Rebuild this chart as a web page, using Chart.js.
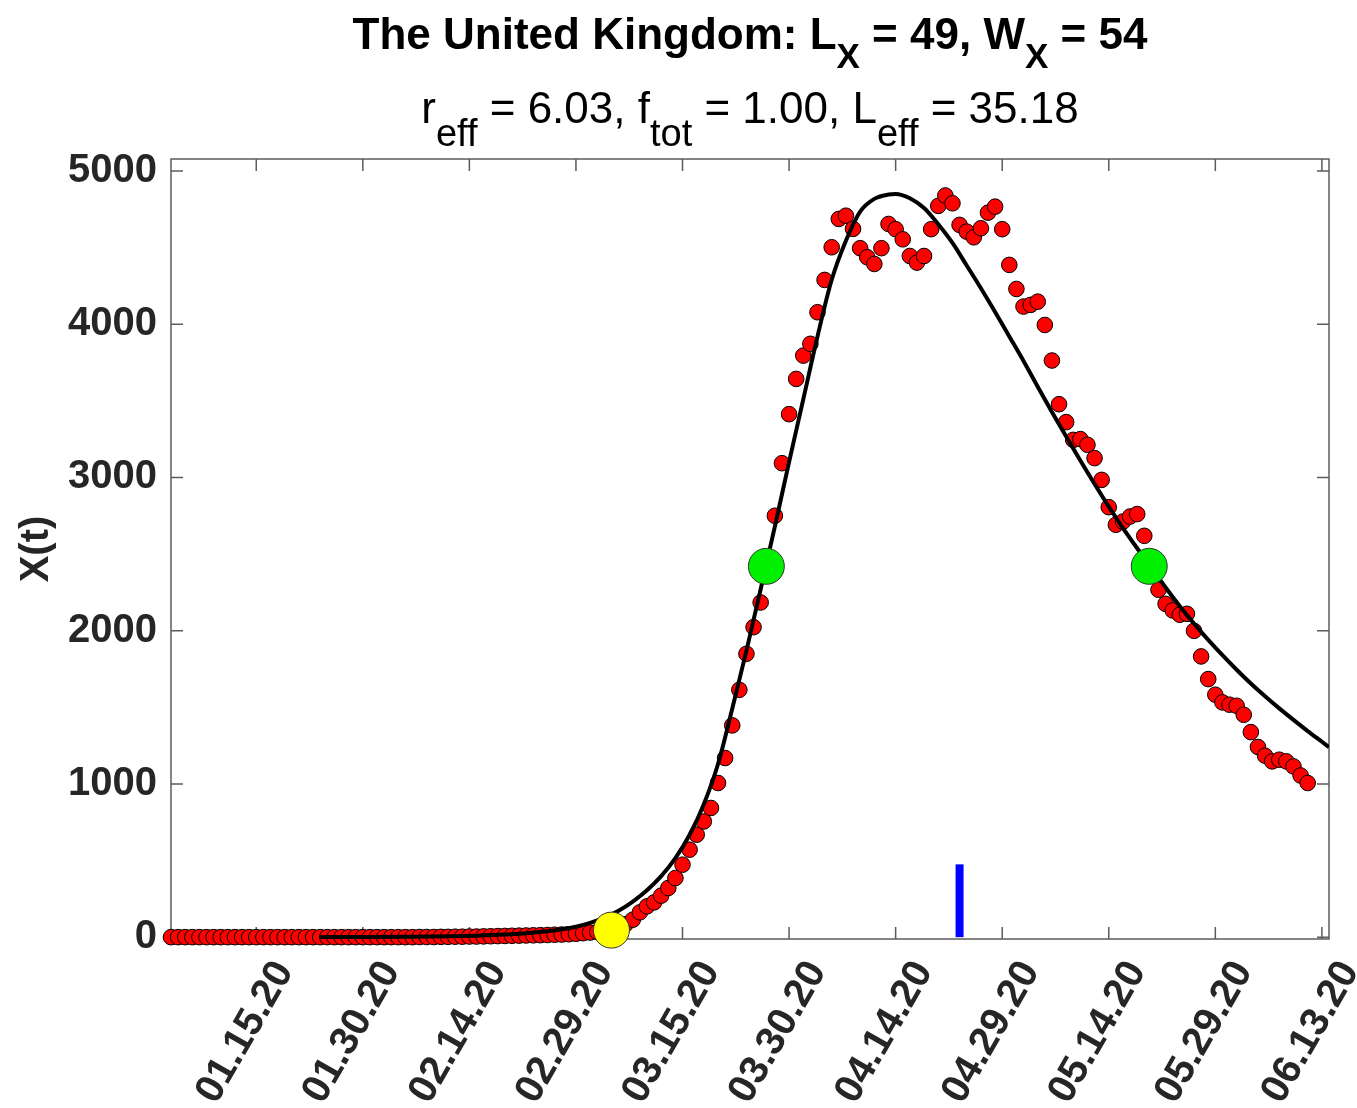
<!DOCTYPE html>
<html>
<head>
<meta charset="utf-8">
<script src="https://cdn.jsdelivr.net/npm/chart.js@4.4.0/dist/chart.umd.min.js"></script>
<style>
  body { margin: 0; background: #fff; }
  #wrap { position: relative; width: 1357px; height: 1108px; font-family: "Liberation Sans", Arial, Helvetica, sans-serif; color: #000; }
  #chart { position: absolute; left: 0; top: 0; }
  .title { position: absolute; left: 171px; width: 1158px; text-align: center; white-space: nowrap; }
  .t1 { top: 12px; font-size: 44px; line-height: 44px; font-weight: bold; }
  .t1 sub { font-size: 35px; vertical-align: -19px; line-height: 1; }
  .t2 { top: 86px; font-size: 44px; line-height: 44px; }
  .t2 sub { font-size: 38px; vertical-align: -23px; line-height: 1; }
</style>
</head>
<body>
<div id="wrap">
  <canvas id="chart" width="1357" height="1108"></canvas>
  <div class="title t1">The United Kingdom: L<sub>X</sub> = 49, W<sub>X</sub> = 54</div>
  <div class="title t2">r<sub>eff</sub> = 6.03, f<sub>tot</sub> = 1.00, L<sub>eff</sub> = 35.18</div>
</div>
<script>
const FONT = '"Liberation Sans", Arial, Helvetica, sans-serif'

// day of year 2020 (Jan 1 = 1)
const firstDay = 3
const observed = [
  0, 0, 0, 0, 0, 0, 0, 0, 0, 0, 0, 0, 0, 0, 0, 0,
  0, 0, 0, 0, 0, 0, 0, 0, 0, 0, 0, 0, 0, 0, 0, 0,
  0, 0, 0, 1, 1, 1, 2, 2, 3, 3,
  4, 4, 5, 6, 7, 8, 9, 10, 11, 12,
  13, 14, 16, 17, 19, 22, 26, 30, 34, 40, 48, 62, 85,
  114, 162, 201, 227, 271, 321, 386, 473, 571, 669,
  755, 843, 1006, 1169, 1382, 1614, 1849, 2023, 2184, 2450,
  2750, 3093, 3413, 3643, 3795, 3872, 4078, 4289, 4502, 4687,
  4708, 4622, 4496, 4437, 4393, 4496, 4654, 4620, 4554, 4445,
  4402, 4445, 4620, 4772, 4840, 4789, 4648, 4604, 4567, 4626,
  4728, 4767, 4620, 4387, 4230, 4115, 4126, 4147, 3995, 3763,
  3478, 3361, 3245, 3250, 3213, 3126, 2984, 2806, 2691, 2712,
  2745, 2761, 2619, 2420, 2267, 2175, 2132, 2104, 2110, 1999,
  1832, 1684, 1582, 1532, 1517, 1510, 1451, 1338, 1241, 1184,
  1147, 1158, 1147, 1114, 1055, 1006,
]

const fitDays = [24, 30, 36, 42, 46, 50, 53, 56, 58, 60, 62, 64, 66, 68, 70, 72, 74, 76, 78, 80,
  82, 84, 86, 88, 90, 92, 94, 96, 98, 100, 102, 104, 105, 107, 109, 111, 113, 115, 117, 119,
  121, 123, 125, 127, 129, 131, 133, 135, 137, 139, 141, 143, 145, 147, 149, 151, 153, 155, 157, 159,
  161, 163, 165, 166]
const fitValues = [0, 1, 3, 6, 10, 17, 26, 38, 51, 68, 93, 127, 172, 232, 306, 398, 515, 668, 868, 1130,
  1490, 1870, 2270, 2680, 3100, 3510, 3920, 4290, 4545, 4735, 4818, 4846, 4850, 4822, 4758, 4652, 4530, 4383, 4235, 4080,
  3920, 3760, 3592, 3427, 3267, 3110, 2957, 2810, 2670, 2538, 2410, 2282, 2160, 2046, 1940, 1840, 1745, 1655, 1572, 1493,
  1418, 1345, 1275, 1240]

const startDays = [65]
const startValues = [46]
const halfDays = [86.8, 140.7]
const halfValues = [2420, 2420]
const markDays = [114, 114]
const markValues = [0, 475]

const tickDays = [15, 30, 45, 60, 75, 90, 105, 120, 135, 150, 165]
const tickLabels = ['01.15.20', '01.30.20', '02.14.20', '02.29.20', '03.15.20', '03.30.20',
  '04.14.20', '04.29.20', '05.14.20', '05.29.20', '06.13.20']
const yTicks = [0, 1000, 2000, 3000, 4000, 5000]

const pts = (xs, ys) => xs.map((d, i) => ({ x: d, y: ys[i] }))

const frame = {
  id: 'frame',
  beforeDatasetsDraw(chart) {
    const { ctx, chartArea: a, scales: { x, y } } = chart
    ctx.save()
    ctx.strokeStyle = '#5c5c5c'
    ctx.lineWidth = 1.5
    ctx.strokeRect(a.left, a.top, a.right - a.left, a.bottom - a.top)
    ctx.beginPath()
    tickDays.forEach(d => {
      const px = x.getPixelForValue(d)
      ctx.moveTo(px, a.bottom); ctx.lineTo(px, a.bottom - 12)
      ctx.moveTo(px, a.top); ctx.lineTo(px, a.top + 12)
    })
    yTicks.forEach(v => {
      const py = y.getPixelForValue(v)
      ctx.moveTo(a.left, py); ctx.lineTo(a.left + 12, py)
      ctx.moveTo(a.right, py); ctx.lineTo(a.right - 12, py)
    })
    ctx.stroke()
    ctx.restore()
  },
}

new Chart(document.getElementById('chart'), {
  type: 'scatter',
  data: {
    datasets: [
      {
        data: pts(startDays, startValues),
        pointRadius: 18, pointBackgroundColor: '#ffff00', pointBorderColor: '#333',
        pointBorderWidth: 1, order: 0, clip: false,
      },
      {
        data: pts(halfDays, halfValues),
        pointRadius: 18, pointBackgroundColor: '#00f000', pointBorderColor: '#333',
        pointBorderWidth: 1, order: 0, clip: false,
      },
      {
        type: 'line',
        data: pts(fitDays, fitValues),
        borderColor: '#000', borderWidth: 4, pointRadius: 0,
        cubicInterpolationMode: 'monotone', fill: false, order: 1,
      },
      {
        data: observed.map((v, i) => ({ x: firstDay + i, y: v })),
        pointRadius: 7.8, pointBackgroundColor: '#ff0000', pointBorderColor: '#000',
        pointBorderWidth: 1, order: 2, clip: false,
      },
      {
        type: 'line',
        data: pts(markDays, markValues),
        borderColor: '#0000ff', borderWidth: 8, borderCapStyle: 'butt', pointRadius: 0, order: 3,
      },
    ],
  },
  options: {
    responsive: false,
    animation: false,
    devicePixelRatio: 1,
    layout: { padding: { top: 159, right: 28, left: 0, bottom: 0 } },
    plugins: { legend: { display: false }, tooltip: { enabled: false } },
    scales: {
      x: {
        type: 'linear',
        min: 3,
        max: 166,
        afterBuildTicks: s => { s.ticks = tickDays.map(v => ({ value: v })) },
        afterFit: s => { s.height = 169; s.paddingLeft = 0; s.paddingRight = 0 },
        grid: { display: false, drawTicks: false },
        border: { display: false },
        ticks: {
          autoSkip: false,
          minRotation: 60,
          maxRotation: 60,
          padding: 14,
          labelOffset: 28,
          color: '#262626',
          font: { family: FONT, size: 40, weight: 'bold' },
          callback: v => tickLabels[tickDays.indexOf(v)],
        },
      },
      y: {
        min: -12,
        max: 5078,
        afterBuildTicks: s => { s.ticks = yTicks.map(v => ({ value: v })) },
        afterFit: s => { s.width = 171 },
        grid: { display: false, drawTicks: false },
        border: { display: false },
        ticks: {
          padding: 14,
          color: '#262626',
          font: { family: FONT, size: 40, weight: 'bold' },
          callback: v => String(v),
        },
        title: {
          display: true,
          text: 'X(t)',
          color: '#262626',
          font: { family: FONT, size: 40, weight: 'bold' },
          padding: { top: 13, bottom: 0 },
        },
      },
    },
  },
  plugins: [frame],
})
</script>
</body>
</html>
